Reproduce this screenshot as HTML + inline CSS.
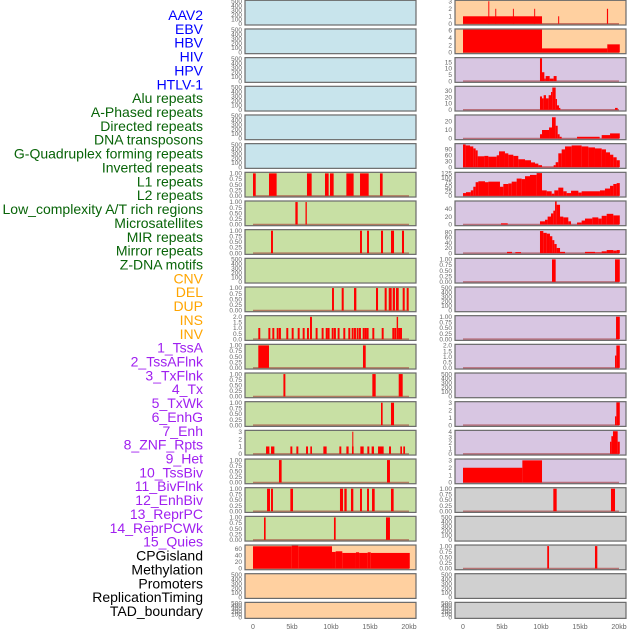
<!DOCTYPE html>
<html><head><meta charset="utf-8">
<style>
html,body{margin:0;padding:0;background:#fff;}
svg{display:block;font-family:"Liberation Sans",sans-serif;}
</style></head>
<body>
<svg id="chart" width="630" height="630" viewBox="0 0 630 630" xmlns="http://www.w3.org/2000/svg"></svg>
<script>
// ---- labels ----
const trackLabels = ["AAV2","EBV","HBV","HIV","HPV","HTLV-1","Alu repeats","A-Phased repeats","Directed repeats","DNA transposons","G-Quadruplex forming repeats","Inverted repeats","L1 repeats","L2 repeats","Low_complexity A/T rich regions","Microsatellites","MIR repeats","Mirror repeats","Z-DNA motifs","CNV","DEL","DUP","INS","INV","1_TssA","2_TssAFlnk","3_TxFlnk","4_Tx","5_TxWk","6_EnhG","7_Enh","8_ZNF_Rpts","9_Het","10_TssBiv","11_BivFlnk","12_EnhBiv","13_ReprPC","14_ReprPCWk","15_Quies","CPGisland","Methylation","Promoters","ReplicationTiming","TAD_boundary"];
const xTickValues = [0,5,10,15,20];
const xTickLabels = ["0","5kb","10kb","15kb","20kb"];
const ticksBinary = ["0.00","0.25","0.50","0.75","1.00"];
const ticksEmpty = ["0","100","200","300","400","500"];

// ---- left column segments [startKb, endKb, value] ----
const segL6 = [[0,0.35,1],[2.05,3.03,1],[6.92,7.52,1],[9.23,9.7,1],[9.87,10.34,1],[11.97,12.9,1],[13.72,14.83,1],[16.28,16.62,1]];
const segL7 = [[5.43,5.73,1],[6.73,6.9,1]];
const segL8 = [[2.31,2.56,1],[13.72,13.97,1],[14.62,14.87,1],[16.41,16.67,1],[17.69,18.08,1],[19.1,19.36,1]];
const segL10 = [[10.13,10.38,1],[11.37,11.63,1],[12.95,13.25,1],[15.77,16.03,1],[16.88,17.14,1],[17.4,17.78,1],[17.91,18.2,1],[18.33,18.68,1],[19.19,19.45,1],[19.7,19.96,1]];
const segL11 = [[0.68,0.93,1],[1.97,2.22,1],[2.48,2.73,1],[3.04,3.29,1],[3.33,3.58,1],[4.27,4.52,1],[4.96,5.21,1],[5.73,5.98,1],[6.37,6.62,1],[6.92,7.17,1],[7.31,7.56,2],[8.03,8.28,1],[8.8,9.05,1],[9.32,9.57,1],[9.57,9.82,1],[10.09,10.34,1],[10.38,10.63,1],[10.85,11.1,1],[11.58,11.83,1],[12.22,12.47,1],[12.65,12.9,1],[12.95,13.2,1],[13.29,13.54,1],[13.59,13.84,1],[14.06,14.31,1],[14.32,14.57,1],[14.57,14.82,1],[15.3,15.55,1],[16.5,16.75,1],[17.86,18.11,1],[18.12,18.37,1],[18.42,18.6,2],[18.6,18.85,1],[18.85,19.1,1]];
const segL12 = [[0.68,2.05,1],[14.1,14.45,1]];
const segL13 = [[3.9,4.15,1],[15.3,15.73,1],[18.68,19.19,1]];
const segL14 = [[16.41,16.62,1],[17.69,18.08,1]];
const segL15 = [[1.67,2.1,1],[2.31,2.74,1],[4.79,5.04,1],[5.56,5.81,1],[6.8,7.05,1],[7.35,7.56,1],[9.02,9.44,1],[11.07,11.32,1],[11.97,12.26,1],[12.69,12.9,1],[12.73,12.86,3],[13.76,14.19,1],[14.66,14.91,1],[15.21,15.51,1],[16.03,16.75,1],[17.44,17.69,1],[18.89,19.1,1],[19.27,19.49,1]];
const segL16 = [[3.33,3.67,1],[17.18,17.56,1]];
const segL17 = [[1.8,2.18,1],[2.31,2.56,1],[4.79,5.13,1],[11.15,11.54,1],[11.71,12.01,1],[12.56,12.86,1],[13.72,13.97,1],[14.62,14.87,1],[15.26,15.6,1],[17.69,18.03,1]];
const segL18 = [[1.41,1.62,1],[10.38,10.6,1],[17.05,17.56,1]];
const segL19 = [[0,4.96,67],[4.96,5.8,69],[5.8,10.13,67],[10.13,10.6,50],[10.6,11.45,52],[11.45,13.2,47],[13.2,13.6,49],[13.6,14.7,47],[14.7,15.1,49],[15.1,20.1,47]];

// ---- right column segments ----
const segR0 = [[0,10.13,1],[3.25,3.37,3],[4.14,4.26,2],[6.4,6.52,2],[9.13,9.25,2],[12.2,12.33,1],[18.45,18.6,2]];
const segR1 = [[0,10.13,6.2],[10.13,18.5,1.1],[18.5,20.1,2.2]];
const segR2 = [[9.87,10.13,18],[10.13,10.43,7],[10.43,10.6,2],[10.6,11.11,4],[11.11,11.62,2],[11.62,12.0,4]];
const segR3 = [[9.87,10.13,21],[10.13,10.34,18],[10.34,10.64,23],[10.64,10.98,18],[10.98,11.28,23],[11.28,11.45,28],[11.45,11.88,35],[11.88,12.05,17],[12.05,12.31,7],[12.31,12.48,3],[19.49,19.83,3]];
const segR4 = [[9.87,10.13,5],[10.13,11.03,10],[11.03,11.41,13],[11.41,11.88,25],[11.88,12.14,15],[12.14,12.39,5],[12.39,12.65,2],[14.62,17.52,2],[17.78,18.85,4],[18.85,20.1,6]];
const segR5 = [[0,0.34,115],[0.34,0.9,110],[0.9,1.32,105],[1.32,1.62,95],[1.62,1.88,85],[1.88,2.74,55],[2.74,3.25,57],[3.25,4.32,53],[4.32,4.62,60],[4.62,5.38,80],[5.38,5.81,70],[5.81,6.45,63],[6.45,7.09,57],[7.09,7.95,40],[7.95,8.72,35],[8.72,9.23,24],[9.23,9.66,18],[9.66,10.13,10],[10.13,11.62,2],[11.62,11.88,10],[11.88,12.22,25],[12.22,12.65,70],[12.65,13.08,90],[13.08,13.93,105],[13.93,15.21,110],[15.21,16.07,105],[16.07,16.92,100],[16.92,17.78,95],[17.78,18.33,90],[18.33,18.85,75],[18.85,19.27,63],[19.27,19.7,50],[19.7,20.1,35]];
const segR6 = [[0,0.38,15],[0.38,1.0,20],[1.0,1.32,30],[1.32,1.62,50],[1.62,1.97,75],[1.97,2.82,80],[2.82,3.25,75],[3.25,4.74,78],[4.74,5.17,50],[5.17,5.81,65],[5.81,6.24,68],[6.24,6.88,78],[6.88,7.52,95],[7.52,7.95,92],[7.95,8.59,108],[8.59,9.44,115],[9.44,10.13,125],[10.13,10.73,30],[10.73,11.37,25],[11.37,11.71,12],[11.71,12.22,30],[12.22,12.86,45],[12.86,13.29,25],[13.29,13.85,15],[13.85,14.79,28],[14.79,15.21,18],[15.21,17.56,25],[17.56,18.2,30],[18.2,18.85,40],[18.85,19.27,55],[19.27,19.7,65],[19.7,20.1,70]];
const segR7 = [[4.87,5.73,3],[9.87,10.51,8],[10.51,10.85,12],[10.85,11.28,20],[11.28,11.58,28],[11.58,11.8,35],[11.8,12.01,60],[12.01,12.44,50],[12.44,12.86,20],[12.86,13.5,18],[13.5,13.85,8],[14.62,15.21,5],[15.21,15.64,10],[15.64,16.58,15],[16.58,17.35,18],[17.35,17.78,15],[17.78,18.42,22],[18.42,19.27,27],[19.27,20.1,23]];
const segR8 = [[5.64,6.28,5],[6.71,7.44,4],[9.87,10.3,85],[10.3,10.73,78],[10.73,11.15,75],[11.15,11.45,65],[11.45,11.71,50],[11.71,12.01,35],[12.01,12.44,20],[12.44,13.08,5],[15.64,16.92,5],[16.92,17.78,3],[17.78,18.42,7],[18.42,19.27,12],[19.27,19.7,10],[19.7,20.1,12]];
const segR9 = [[11.41,11.88,1],[19.49,20.1,1]];
const segR11 = [[19.62,20.1,1]];
const segR12 = [[19.49,19.66,1.1],[19.66,20.1,2]];
const segR14 = [[19.49,19.66,1.2],[19.66,20.1,3.1]];
const segR15 = [[18.85,19.02,2.2],[19.02,19.23,3.2],[19.23,19.83,4.1],[19.83,20.1,2.2]];
const segR16 = [[0,7.61,2],[7.61,10.13,3]];
const segR17 = [[11.58,12.01,1],[18.97,19.49,1]];
const segR19 = [[10.8,11.03,1],[16.92,17.22,1]];

// ---- panel config: [segments, vmax, tick labels] ----
const leftPanels = [
 [null,510,ticksEmpty],[null,510,ticksEmpty],[null,510,ticksEmpty],[null,510,ticksEmpty],[null,510,ticksEmpty],[null,510,ticksEmpty],
 [segL6,1.02,ticksBinary],[segL7,1.02,ticksBinary],[segL8,1.02,ticksBinary],[null,510,ticksEmpty],
 [segL10,1.02,ticksBinary],[segL11,2.05,["0.0","0.5","1.0","1.5","2.0"]],[segL12,1.02,ticksBinary],[segL13,1.02,ticksBinary],
 [segL14,1.02,ticksBinary],[segL15,3.1,["0","1","2","3"]],[segL16,1.02,ticksBinary],[segL17,1.02,ticksBinary],[segL18,1.02,ticksBinary],
 [segL19,69,["0","20","40","60"]],[null,510,ticksEmpty],[null,510,ticksEmpty]
];
const rightPanels = [
 [segR0,3.05,["0","1","2","3"]],[segR1,6.2,["0","2","4","6"]],[segR2,18,["0","5","10","15"]],[segR3,36,["0","10","20","30"]],
 [segR4,27,["0","10","20"]],[segR5,116,["0","30","60","90"]],[segR6,126,["0","25","50","75","100","125"]],[segR7,58,["0","20","40"]],
 [segR8,88,["0","20","40","60","80"]],[segR9,1.02,ticksBinary],[null,510,ticksEmpty],[segR11,1.02,ticksBinary],
 [segR12,2.05,["0.0","0.5","1.0","1.5","2.0"]],[null,510,ticksEmpty],[segR14,3.1,["0","1","2","3"]],[segR15,4.15,["0","1","2","3","4"]],
 [segR16,3.1,["0","1","2","3"]],[segR17,1.02,ticksBinary],[null,510,ticksEmpty],[segR19,1.02,ticksBinary],[null,510,ticksEmpty],[null,510,ticksEmpty]
];
const leftBg = ["#c8e4ec","#c8e4ec","#c8e4ec","#c8e4ec","#c8e4ec","#c8e4ec","#c8e0a4","#c8e0a4","#c8e0a4","#c8e0a4","#c8e0a4","#c8e0a4","#c8e0a4","#c8e0a4","#c8e0a4","#c8e0a4","#c8e0a4","#c8e0a4","#c8e0a4","#ffd0a0","#ffd0a0","#ffd0a0"];
const rightBg = ["#ffd0a0","#ffd0a0","#d8c6e2","#d8c6e2","#d8c6e2","#d8c6e2","#d8c6e2","#d8c6e2","#d8c6e2","#d8c6e2","#d8c6e2","#d8c6e2","#d8c6e2","#d8c6e2","#d8c6e2","#d8c6e2","#d8c6e2","#d0d0d0","#d0d0d0","#d0d0d0","#d0d0d0","#d0d0d0"];

const NS = "http://www.w3.org/2000/svg";
const svg = document.getElementById("chart");
function mk(tag, attrs, parent){ const e=document.createElementNS(NS,tag); for(const k in attrs) e.setAttribute(k,attrs[k]); (parent||svg).appendChild(e); return e; }

function labelColor(i){ if(i<6) return "#0000ff"; if(i<19) return "#086408"; if(i<24) return "#ffa500"; if(i<39) return "#a020f0"; return "#000"; }
trackLabels.forEach((t,i)=>{
  const el = mk("text",{x:203,y:15+i*13.86+5,"text-anchor":"end","font-size":"14",fill:labelColor(i)});
  el.textContent = t;
  
  
});

const PW = 171;
function drawPanel(cfg, bg, left, row, side){
  const top = row*28.67 + 0.3;
  const h = row===21 ? 16 : 24.7;
  const bottom = top + h;
  const g = mk("g",{});
  
  
  mk("rect",{x:left,y:top,width:PW,height:h,fill:bg},g);
  const segs = cfg[0], vmax = cfg[1], ticks = cfg[2];
  const xs = kb => left + 8 + kb*7.8;
  const ys = v => bottom - 1.2 - v*(h-1.8)/vmax;
  const n = ticks.length;
  const tmax = parseFloat(ticks[n-1]);
  ticks.forEach(lbl=>{
    const v = parseFloat(lbl);
    const tv = segs ? v : v*(500/tmax);
    const t = mk("text",{x:left-3,y:ys(tv)+2.2,"text-anchor":"end","font-size":"6.5",fill:"#666"},g);
    t.textContent = lbl;
    
    
  });
  if(segs){
    mk("line",{x1:xs(0),x2:xs(20),y1:ys(0),y2:ys(0),stroke:"rgba(160,40,40,0.55)","stroke-width":1.5},g);
    segs.forEach(s=>{
      const x1 = xs(s[0]), x2 = xs(s[1]);
      const b = mk("rect",{x:x1,y:ys(s[2]),width:Math.max(0.8,x2-x1),height:ys(0)-ys(s[2]),fill:"#ff0000"},g);
      
      
    });
  }
  mk("rect",{x:left,y:top,width:PW,height:h,fill:"none",stroke:"#6a6a6a","stroke-width":1.2},g);
}
leftPanels.forEach((c,i)=>drawPanel(c,leftBg[i],245,i,'left'));
rightPanels.forEach((c,i)=>drawPanel(c,rightBg[i],455,i,'right'));

[245,455].forEach(left=>{
  xTickValues.forEach((v,i)=>{
    const t = mk("text",{x:left+8+v*7.8,y:629,"text-anchor":"middle","font-size":"7",fill:"#666"});
    t.textContent = xTickLabels[i];
    
    
  });
});
</script>
</body></html>
